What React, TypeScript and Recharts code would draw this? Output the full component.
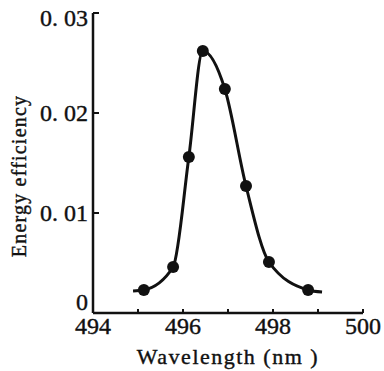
import React from "react";
import { ComposedChart, Line, Scatter, XAxis, YAxis } from "recharts";

const wavelengths = [495.13, 495.78, 496.13, 496.44, 496.93, 497.4, 497.91, 498.78];
const efficiencies = [0.0023, 0.0046, 0.0156, 0.0262, 0.0224, 0.0127, 0.0051, 0.0023];
const curveStart = { x: 494.89, y: 0.0022 };
const curveEnd = { x: 499.09, y: 0.0021 };
const xTicks = [494, 495, 496, 497, 498, 499, 500];
const xLabeled = [494, 496, 498, 500];
const yTicks = [0, 0.01, 0.02, 0.03];
const yTickLabels = ["0", "0. 01", "0. 02", "0. 03"];

const points = wavelengths.map((x, i) => ({ x, y: efficiencies[i] }));
const curve = [curveStart, ...points, curveEnd];

const FONT = "'Liberation Serif', 'Times New Roman', serif";
const INK = "#111";

const XTick = (props: any) => {
  const { x, y, payload } = props;
  const v = payload.value;
  return (
    <g>
      <line x1={x} x2={x} y1={y} y2={y - 4} stroke={INK} strokeWidth={2} />
      {xLabeled.includes(v) && (
        <text x={x} y={y + 21} textAnchor="middle" fontFamily={FONT} fontSize={24} fill={INK} stroke={INK} strokeWidth={0.4}>
          {v}
        </text>
      )}
    </g>
  );
};

const YTick = (props: any) => {
  const { x, y, payload } = props;
  const idx = yTicks.indexOf(payload.value);
  const label = idx >= 0 ? yTickLabels[idx] : String(payload.value);
  let dy = 8;
  if (payload.value === 0) dy = -3;
  if (payload.value === 0.03) dy = 13;
  return (
    <g>
      <line x1={x} x2={x + 6} y1={y} y2={y} stroke={INK} strokeWidth={2} />
      <text x={x - 5} y={y + dy} textAnchor="end" fontFamily={FONT} fontSize={24} fill={INK} stroke={INK} strokeWidth={0.4}>
        {label}
      </text>
    </g>
  );
};

const YLabel = (props: any) => {
  const { viewBox } = props;
  const cx = viewBox.x + 11;
  const cy = viewBox.y + viewBox.height / 2 + 13;
  return (
    <text
      x={cx}
      y={cy}
      transform={`rotate(-90 ${cx} ${cy})`}
      textAnchor="middle"
      dominantBaseline="central"
      fontFamily={FONT}
      fontSize={20}
      letterSpacing={1.2}
      fill={INK}
      stroke={INK}
      strokeWidth={0.4}
    >
      Energy efficiency
    </text>
  );
};

const XLabel = (props: any) => {
  const { viewBox } = props;
  const cx = viewBox.x + viewBox.width / 2;
  const cy = viewBox.y + 51;
  return (
    <text x={cx} y={cy} textAnchor="middle" fontFamily={FONT} fontSize={22} letterSpacing={1.5} fill={INK} stroke={INK} strokeWidth={0.4}>
      Wavelength (nm )
    </text>
  );
};

const Dot = (props: any) => <circle cx={props.cx} cy={props.cy} r={6} fill={INK} />;

export default function App() {
  return (
    <div style={{ position: "absolute", left: 0, top: 0, width: 384, height: 371, background: "#fff" }}>
      <ComposedChart width={384} height={371} margin={{ top: 13, right: 21, left: 8, bottom: 0 }}>
        <XAxis
          type="number"
          dataKey="x"
          domain={[494, 500]}
          ticks={xTicks}
          interval={0}
          height={58}
          tickSize={0}
          tickMargin={0}
          tickLine={false}
          tick={<XTick />}
          axisLine={{ stroke: INK, strokeWidth: 2.5 }}
          label={<XLabel />}
          allowDataOverflow
        />
        <YAxis
          type="number"
          dataKey="y"
          domain={[0, 0.03]}
          ticks={yTicks}
          interval={0}
          width={85}
          tickSize={0}
          tickMargin={0}
          tickLine={false}
          tick={<YTick />}
          axisLine={{ stroke: INK, strokeWidth: 2.5 }}
          label={<YLabel />}
          allowDataOverflow
        />
        <Line
          data={curve}
          dataKey="y"
          type="monotone"
          stroke={INK}
          strokeWidth={3}
          dot={false}
          activeDot={false}
          isAnimationActive={false}
        />
        <Scatter data={points} dataKey="y" shape={<Dot />} isAnimationActive={false} />
      </ComposedChart>
    </div>
  );
}
